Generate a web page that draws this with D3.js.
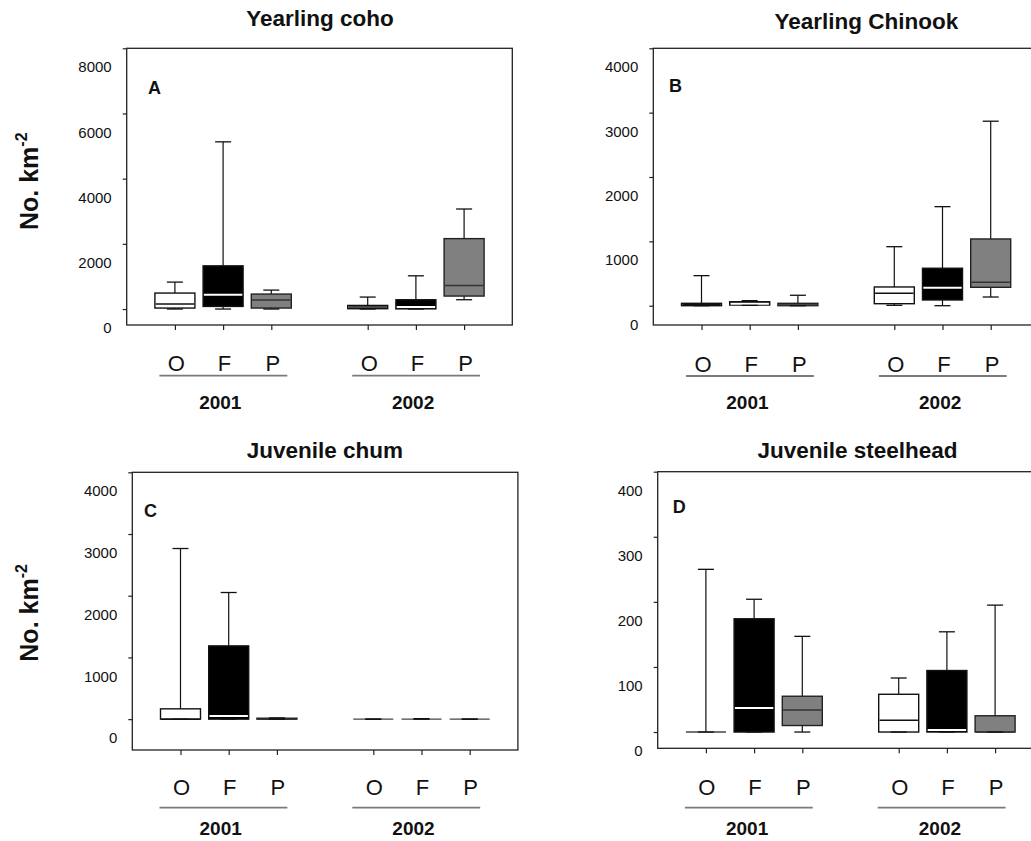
<!DOCTYPE html>
<html>
<head>
<meta charset="utf-8">
<script src="https://cdn.jsdelivr.net/npm/d3@7"></script>
<style>
  html, body { margin: 0; padding: 0; background: #fff; }
  svg { display: block; font-family: "Liberation Sans", Arial, Helvetica, sans-serif; }
</style>
</head>
<body>
<svg id="chart" width="1031" height="841"></svg>
<script>
// ---------------- DATA ----------------
const categories = ["O", "F", "P", "O", "F", "P"];
const years = ["2001", "2002"];
const treatments = ["O", "F", "P"];
// stats per box: [min, q1, median, q3, max]  (No. km^-2)
const cohoStats = [
  [0, 30, 153, 490, 826],
  [0, 80, 438, 1325, 5130],
  [0, 30, 275, 459, 581],
  [0, 10, 60, 110, 367],
  [0, 5, 60, 285, 1019],
  [285, 398, 722, 2160, 3069]
];
const chinookStats = [
  [0, 0, 15, 37, 467],
  [5, 10, 30, 62, 78],
  [0, 0, 10, 37, 162],
  [6, 31, 193, 291, 917],
  [0, 89, 280, 582, 1539],
  [135, 286, 364, 1037, 2867]
];
const chumStats = [
  [0, 0, 0, 167, 2765],
  [0, 0, 49, 1187, 2052],
  [0, 0, 0, 15, 20],
  [0, 0, 0, 0, 0],
  [0, 0, 0, 0, 8],
  [0, 0, 0, 0, 0]
];
const steelheadStats = [
  [0, 0, 0, 0, 250],
  [0, 0, 37, 174, 204],
  [0, 10, 34, 55, 147],
  [0, 0, 18, 58, 83],
  [0, 0, 3, 94.5, 154],
  [0, 0, 0, 25, 195]
];
const cohoTicks = [0, 2000, 4000, 6000, 8000];
const chinookTicks = [0, 1000, 2000, 3000, 4000];
const chumTicks = [0, 1000, 2000, 3000, 4000];
const steelheadTicks = [0, 100, 200, 300, 400];
const titles = ["Yearling coho", "Yearling Chinook", "Juvenile chum", "Juvenile steelhead"];
const letters = ["A", "B", "C", "D"];
const yTitle = "No. km";
const yTitleSup = "-2";

// ---------------- LAYOUT ----------------
const positions = [1, 2, 3, 5, 6, 7];
const fills   = { O: "#ffffff", F: "#000000", P: "#808080" };
const strokes = { O: "#111111", F: "#111111", P: "#222222" };
const medians = { O: "#111111", F: "#ffffff", P: "#333333" };

const panels = [
  { stats: cohoStats, ticks: cohoTicks, yMin: -490, yMax: 8000,
    left: 126.7, top: 48.3, bottom: 325, title: [320, 26], letter: [148, 94],
    labelY: 371, lineY: 375.7, yearY: 409.3, line: [-15.5, 16], labShift: 1.5, yearShift: -2.8 },
  { stats: chinookStats, ticks: chinookTicks, yMin: -300, yMax: 4000,
    left: 653.3, top: 48.3, bottom: 325, title: [866.3, 29.3], letter: [669, 92.3],
    labelY: 371.7, lineY: 376, yearY: 409.3, line: [-15.5, 16], labShift: 1.5, yearShift: -2.3 },
  { stats: chumStats, ticks: chumTicks, yMin: -500, yMax: 4000,
    left: 132.3, top: 472.3, bottom: 750, title: [324.8, 457.7], letter: [144, 517.3],
    labelY: 795, lineY: 807.7, yearY: 835, line: [-21, 10.5], labShift: 1, yearShift: -8 },
  { stats: steelheadStats, ticks: steelheadTicks, yMin: -25, yMax: 400,
    left: 657.7, top: 471.7, bottom: 748.3, title: [857.5, 457.7], letter: [672.7, 512.7],
    labelY: 795, lineY: 807.7, yearY: 835, line: [-21, 10.5], labShift: 1, yearShift: -7 }
];
const plotW = 385.6;
const boxW = 40, capW = 16;

const svg = d3.select("#chart");

panels.forEach((p, pi) => {
  const x = d3.scaleLinear().domain([0, 8]).range([p.left, p.left + plotW]);
  const y = d3.scaleLinear().domain([p.yMin, p.yMax]).range([p.bottom, p.top]);
  const g = svg.append("g");

  // frame
  g.append("rect")
    .attr("x", p.left).attr("y", p.top)
    .attr("width", plotW).attr("height", p.bottom - p.top)
    .attr("fill", "none").attr("stroke", "#222").attr("stroke-width", 1.3);

  // y axis
  const ya = g.append("g").attr("transform", `translate(${p.left},0)`)
    .call(d3.axisLeft(y).tickValues(p.ticks).tickSizeInner(4).tickSizeOuter(0).tickPadding(11).tickFormat(d3.format("d")));
  ya.select(".domain").remove();
  ya.selectAll("line").attr("stroke", "#222").attr("stroke-width", 1.2);
  ya.selectAll("text").attr("y", 18.8).attr("font-size", 15).attr("fill", "#111")
    .attr("font-family", "'Liberation Sans', Arial, sans-serif");

  // x axis ticks
  const xa = g.append("g").attr("transform", `translate(0,${p.bottom})`)
    .call(d3.axisBottom(x).tickValues(positions).tickSizeInner(5).tickSizeOuter(0).tickFormat(""));
  xa.select(".domain").remove();
  xa.selectAll("line").attr("stroke", "#222").attr("stroke-width", 1.2);

  // boxes
  p.stats.forEach((s, i) => {
    const cat = categories[i];
    const cx = x(positions[i]);
    const [mn, q1, md, q3, mx] = s;
    const wg = g.append("g");
    // upper whisker
    wg.append("line").attr("x1", cx).attr("x2", cx).attr("y1", y(q3)).attr("y2", y(mx))
      .attr("stroke", "#111").attr("stroke-width", 1.2);
    // lower whisker
    wg.append("line").attr("x1", cx).attr("x2", cx).attr("y1", y(q1)).attr("y2", y(mn))
      .attr("stroke", "#111").attr("stroke-width", 1.2);
    // box
    if (q3 > q1) {
      wg.append("rect")
        .attr("x", cx - boxW / 2).attr("y", y(q3))
        .attr("width", boxW).attr("height", y(q1) - y(q3))
        .attr("fill", fills[cat]).attr("stroke", strokes[cat]).attr("stroke-width", 1.4);
      wg.append("line").attr("x1", cx - boxW / 2 + 0.8).attr("x2", cx + boxW / 2 - 0.8)
        .attr("y1", y(md)).attr("y2", y(md))
        .attr("stroke", medians[cat]).attr("stroke-width", cat === "F" ? 2 : 1.5);
    } else {
      // collapsed box: drawn as a single line across the box width
      wg.append("line").attr("x1", cx - boxW / 2).attr("x2", cx + boxW / 2)
        .attr("y1", y(q1)).attr("y2", y(q1))
        .attr("stroke", "#444").attr("stroke-width", 1.4);
    }
    // caps
    wg.append("line").attr("x1", cx - capW / 2).attr("x2", cx + capW / 2).attr("y1", y(mx)).attr("y2", y(mx))
      .attr("stroke", "#111").attr("stroke-width", 1.3);
    wg.append("line").attr("x1", cx - capW / 2).attr("x2", cx + capW / 2).attr("y1", y(mn)).attr("y2", y(mn))
      .attr("stroke", "#111").attr("stroke-width", 1.3);
    // category label
    g.append("text").attr("x", cx + p.labShift).attr("y", p.labelY)
      .attr("text-anchor", "middle").attr("font-size", 22).attr("fill", "#111").text(cat);
  });

  // year underlines and labels
  years.forEach((yr, k) => {
    const a = positions[k * 3], b = positions[k * 3 + 2], m = positions[k * 3 + 1];
    g.append("line").attr("x1", x(a) + p.line[0]).attr("x2", x(b) + p.line[1])
      .attr("y1", p.lineY).attr("y2", p.lineY)
      .attr("stroke", "#7a7a7a").attr("stroke-width", 1.8);
    g.append("text").attr("x", x(m) + p.yearShift).attr("y", p.yearY)
      .attr("text-anchor", "middle").attr("font-size", 19).attr("font-weight", "bold")
      .attr("fill", "#111").text(yr);
  });

  // title
  g.append("text").attr("x", p.title[0]).attr("y", p.title[1])
    .attr("text-anchor", "middle").attr("font-size", 22.5).attr("font-weight", "bold")
    .attr("fill", "#111").text(titles[pi]);
  // panel letter
  g.append("text").attr("x", p.letter[0]).attr("y", p.letter[1])
    .attr("font-size", 18).attr("font-weight", "bold").attr("fill", "#111").text(letters[pi]);
});

// y-axis titles (left column only)
[230, 661.7].forEach(yy => {
  const t = svg.append("text")
    .attr("transform", `translate(37.5,${yy}) rotate(-90)`)
    .attr("font-weight", "bold").attr("fill", "#111");
  t.append("tspan").attr("font-size", 25).text(yTitle);
  t.append("tspan").attr("font-size", 16).attr("dy", -11).text(yTitleSup);
});
</script>
</body>
</html>
